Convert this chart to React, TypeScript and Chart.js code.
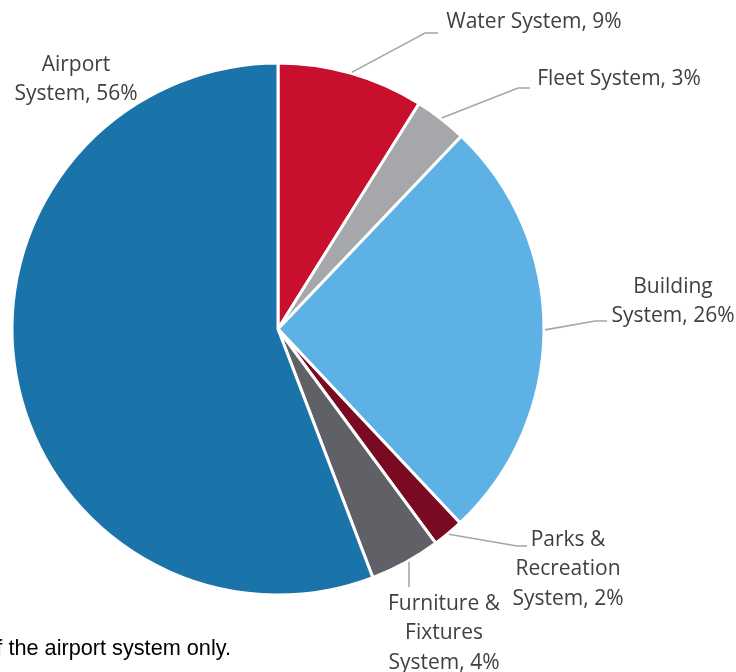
import React, { useEffect, useRef } from "react";
import { Chart, registerables } from "chart.js";

Chart.register(...registerables);

const categories = [
  "Water System",
  "Fleet System",
  "Building System",
  "Parks & Recreation System",
  "Furniture & Fixtures System",
  "Airport System",
];
const shares = [8.9, 3.2, 25.9, 1.9, 4.3, 55.8];
const labelLines = [
  ["Water System, 9%"],
  ["Fleet System, 3%"],
  ["Building", "System, 26%"],
  ["Parks &", "Recreation", "System, 2%"],
  ["Furniture &", "Fixtures", "System, 4%"],
  ["Airport", "System, 56%"],
];
const colors = ["#C8102E", "#A5A7AA", "#5DB1E4", "#7A0A22", "#5F6166", "#1B74A9"];
const footnote = "of the airport system only.";

// label placement relative to the pie centre (text centre x, first baseline y, leader elbow/end)
const labelLayout = [
  { tx: 256, ty: -301, vertical: false, leader: [[147, -296], [160, -296]] },
  { tx: 341, ty: -244, vertical: false, leader: [[240, -241], [252, -241]] },
  { tx: 395, ty: -36, vertical: false, leader: [[317, -8], [329, -8]] },
  { tx: 290, ty: 217, vertical: false, leader: [[239, 217], [249, 217]] },
  { tx: 166, ty: 281, vertical: true, leader: [[131, 258]] },
  { tx: -202, ty: -258, vertical: false, leader: [] as number[][] },
];

const labelPlugin = {
  id: "pieLabels",
  afterDatasetsDraw(chart: any) {
    const meta = chart.getDatasetMeta(0);
    const ctx = chart.ctx;
    ctx.save();
    meta.data.forEach((arc: any, i: number) => {
      const p = arc.getProps(["x", "y", "startAngle", "endAngle", "outerRadius"], true);
      const mid = (p.startAngle + p.endAngle) / 2;
      const lay = labelLayout[i];
      if (lay.leader.length) {
        const r = p.outerRadius + 1;
        let sx = p.x + Math.cos(mid) * r;
        let sy = p.y + Math.sin(mid) * r;
        if (lay.vertical) {
          const dx = lay.leader[0][0];
          sx = p.x + dx;
          sy = p.y + Math.sqrt(r * r - dx * dx);
        }
        ctx.beginPath();
        ctx.moveTo(sx, sy);
        lay.leader.forEach((pt) => ctx.lineTo(p.x + pt[0], p.y + pt[1]));
        ctx.strokeStyle = "#A6A6A6";
        ctx.lineWidth = 1.6;
        ctx.stroke();
      }
      ctx.fillStyle = "#404040";
      ctx.font = '21px "Open Sans"';
      ctx.textAlign = "center";
      ctx.textBaseline = "alphabetic";
      labelLines[i].forEach((line, j) => {
        ctx.fillText(line, p.x + lay.tx, p.y + lay.ty + j * 29.3);
      });
    });
    ctx.restore();
  },
};

export default function App() {
  const ref = useRef<HTMLCanvasElement>(null);
  useEffect(() => {
    if (!ref.current) return;
    const chart = new Chart(ref.current, {
      type: "pie",
      data: {
        labels: categories,
        datasets: [
          {
            data: shares,
            backgroundColor: colors,
            borderColor: "#FFFFFF",
            borderWidth: 3,
          },
        ],
      },
      options: {
        animation: false,
        responsive: false,
        radius: 266,
        layout: { padding: { left: 0, right: 180, top: 0, bottom: 14 } },
        plugins: {
          legend: { display: false },
          tooltip: { enabled: false },
        },
      } as any,
      plugins: [labelPlugin],
    });
    return () => chart.destroy();
  }, []);
  return (
    <div
      style={{
        position: "fixed",
        left: 0,
        top: 0,
        width: 736,
        height: 672,
        overflow: "hidden",
        background: "#fff",
      }}
    >
      <canvas ref={ref} width={736} height={672} style={{ display: "block" }} />
      <div
        style={{
          position: "absolute",
          right: 736 - 231,
          top: 637,
          whiteSpace: "nowrap",
          font: '21.7px "Liberation Sans", Arial, sans-serif',
          lineHeight: "22px",
          color: "#000",
        }}
      >
        {footnote}
      </div>
    </div>
  );
}
